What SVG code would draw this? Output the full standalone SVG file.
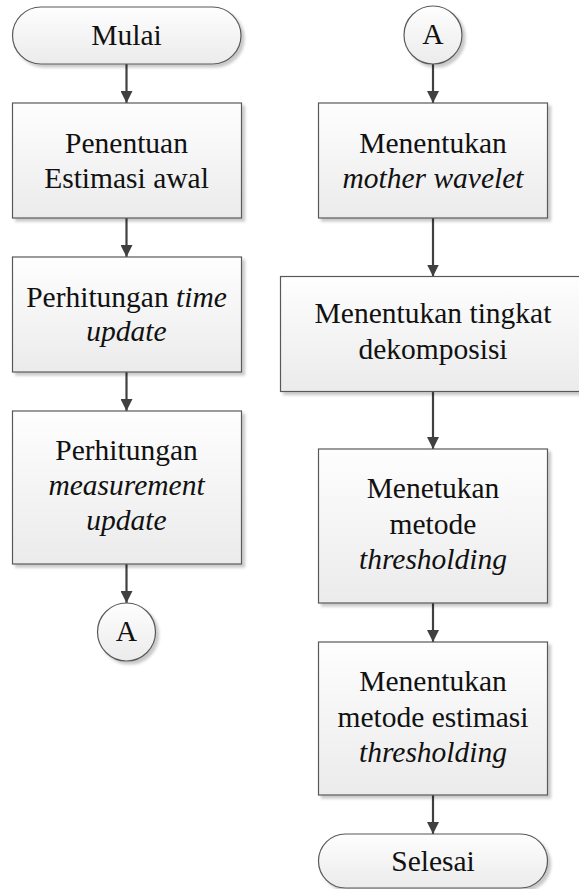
<svg xmlns="http://www.w3.org/2000/svg" width="579" height="889" viewBox="0 0 579 889">
  <defs>
    <linearGradient id="fillGrad" x1="0" y1="0" x2="0" y2="1">
      <stop offset="0" stop-color="#fefefe"/>
      <stop offset="1" stop-color="#ebebeb"/>
    </linearGradient>
    <filter id="shadow" x="-10%" y="-10%" width="130%" height="130%">
      <feGaussianBlur in="SourceAlpha" stdDeviation="1.5"/>
      <feOffset dx="3" dy="3" result="off"/>
      <feComponentTransfer><feFuncA type="linear" slope="0.22"/></feComponentTransfer>
      <feMerge><feMergeNode/><feMergeNode in="SourceGraphic"/></feMerge>
    </filter>
    <marker id="arrow" markerWidth="12" markerHeight="12" viewBox="0 0 12 12" refX="12" refY="6" orient="auto" markerUnits="userSpaceOnUse">
      <path d="M0,0 L12,6 L0,12 Z" fill="#404040"/>
    </marker>
  </defs>
  <style>
    .shape { fill: url(#fillGrad); stroke: #595959; stroke-width: 1.2; filter: url(#shadow); }
    text { font-family: "Liberation Serif", "Times New Roman", serif; font-size: 29.5px; fill: #111; text-anchor: middle; }
    .it { font-style: italic; }
    .conn { stroke: #404040; stroke-width: 2.2; fill: none; marker-end: url(#arrow); }
  </style>
  <rect width="579" height="889" fill="#ffffff"/>

  <!-- connectors -->
  <g id="connectors">
    <line class="conn" x1="126.5" y1="64" x2="126.5" y2="103"/>
    <line class="conn" x1="126.5" y1="218" x2="126.5" y2="257"/>
    <line class="conn" x1="126.5" y1="372" x2="126.5" y2="411"/>
    <line class="conn" x1="126.5" y1="564" x2="126.5" y2="603"/>
    <line class="conn" x1="433" y1="64" x2="433" y2="103"/>
    <line class="conn" x1="433" y1="218" x2="433" y2="276.5"/>
    <line class="conn" x1="433" y1="392" x2="433" y2="449"/>
    <line class="conn" x1="433" y1="603" x2="433" y2="642"/>
    <line class="conn" x1="433" y1="795" x2="433" y2="834"/>
  </g>

  <!-- left column -->
  <g id="mulai">
    <rect class="shape" x="12.5" y="7" width="228.5" height="57" rx="28.5" ry="28.5"/>
    <text x="126.5" y="45">Mulai</text>
  </g>
  <g id="estimasi-awal">
    <rect class="shape" x="12.5" y="103" width="229" height="115"/>
    <text x="126.5" y="153">Penentuan</text>
    <text x="126.5" y="188">Estimasi awal</text>
  </g>
  <g id="time-update">
    <rect class="shape" x="12.5" y="257" width="229" height="115"/>
    <text x="126.5" y="307">Perhitungan <tspan class="it">time</tspan></text>
    <text class="it" x="126.5" y="341">update</text>
  </g>
  <g id="measurement-update">
    <rect class="shape" x="12.5" y="411" width="229" height="153"/>
    <text x="126.5" y="460">Perhitungan</text>
    <text class="it" x="126.5" y="495">measurement</text>
    <text class="it" x="126.5" y="530">update</text>
  </g>
  <g id="connector-a-out">
    <circle class="shape" cx="126.5" cy="632" r="29"/>
    <text x="126.5" y="641">A</text>
  </g>

  <!-- right column -->
  <g id="connector-a-in">
    <circle class="shape" cx="433" cy="35" r="29"/>
    <text x="433" y="44">A</text>
  </g>
  <g id="mother-wavelet">
    <rect class="shape" x="318.5" y="103" width="229" height="115"/>
    <text x="433" y="153">Menentukan</text>
    <text class="it" x="433" y="188">mother wavelet</text>
  </g>
  <g id="tingkat-dekomposisi">
    <rect class="shape" x="280.5" y="276.5" width="306" height="115"/>
    <text x="433" y="323">Menentukan tingkat</text>
    <text x="433" y="359">dekomposisi</text>
  </g>
  <g id="metode-thresholding">
    <rect class="shape" x="318.5" y="449" width="229" height="154"/>
    <text x="433" y="498">Menetukan</text>
    <text x="433" y="534">metode</text>
    <text class="it" x="433" y="569">thresholding</text>
  </g>
  <g id="estimasi-thresholding">
    <rect class="shape" x="318.5" y="642" width="229" height="153"/>
    <text x="433" y="691">Menentukan</text>
    <text x="433" y="727">metode estimasi</text>
    <text class="it" x="433" y="762">thresholding</text>
  </g>
  <g id="selesai">
    <rect class="shape" x="318.5" y="834" width="229" height="54" rx="27" ry="27"/>
    <text x="433" y="871">Selesai</text>
  </g>
</svg>
